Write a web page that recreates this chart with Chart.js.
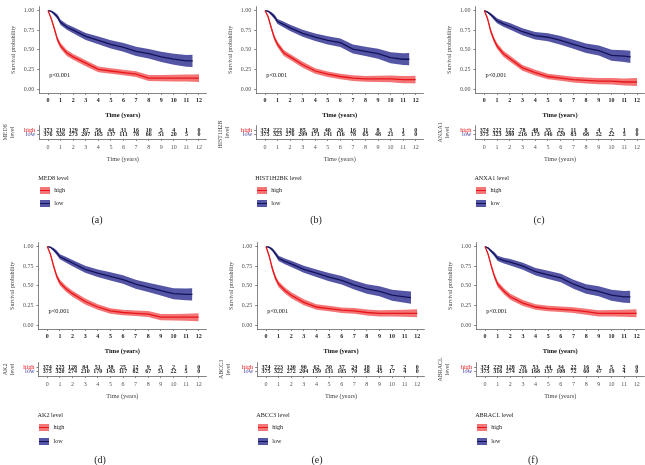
<!DOCTYPE html>
<html>
<head>
<meta charset="utf-8">
<script src="https://cdn.jsdelivr.net/npm/chart.js@4.4.1/dist/chart.umd.min.js"></script>
<style>
body { margin: 0; background: #fff; font-family: 'Liberation Serif', 'DejaVu Serif', serif; }
#fig { position: relative; width: 645px; height: 465px; overflow: hidden; }
.panel { position: absolute; width: 215px; height: 232px; }
.panel canvas { position: absolute; left: 0; }
.lgt, .lbl { position: absolute; font-size: 6.2px; color: #222; white-space: nowrap; line-height: 8px; }
.box { position: absolute; width: 10px; height: 7px; }
.box i { position: absolute; left: 0; right: 0; top: 3px; height: 1.3px; }
.cap { position: absolute; font-size: 10px; color: #222; transform: translateX(-50%); line-height: 12px; }
</style>
</head>
<body>
<div id="fig"></div>
<script>
// time points (years)
var years = [0, 0.25, 0.5, 0.75, 1, 1.5, 2, 3, 4, 5, 6, 7, 8, 9, 10, 11, 11.5, 12];
var tableYears = [0, 1, 2, 3, 4, 5, 6, 7, 8, 9, 10, 11, 12];
var genes = ['MED8', 'HIST1H2BK', 'ANXA1', 'AK2', 'ABCC3', 'ABRACL'];
var letters = ['(a)', '(b)', '(c)', '(d)', '(e)', '(f)'];

// survival probability, high / low expression
var med8High = [1, 0.90, 0.77, 0.63, 0.55, 0.46, 0.41, 0.33, 0.25, 0.23, 0.21, 0.19, 0.14, 0.14, 0.14, 0.14, 0.14, 0.14];
var med8Low = [1, 0.99, 0.96, 0.92, 0.85, 0.79, 0.75, 0.67, 0.62, 0.57, 0.53, 0.48, 0.45, 0.41, 0.38, 0.36, 0.36, null];
var histHigh = [1, 0.92, 0.78, 0.65, 0.57, 0.46, 0.41, 0.31, 0.23, 0.19, 0.16, 0.14, 0.13, 0.13, 0.13, 0.12, 0.12, 0.12];
var histLow = [1, 0.99, 0.96, 0.92, 0.86, 0.82, 0.78, 0.71, 0.66, 0.62, 0.59, 0.51, 0.48, 0.45, 0.40, 0.38, 0.38, null];
var anxaHigh = [1, 0.90, 0.74, 0.63, 0.55, 0.45, 0.39, 0.27, 0.21, 0.16, 0.14, 0.12, 0.11, 0.10, 0.10, 0.09, 0.09, 0.09];
var anxaLow = [1, 0.98, 0.95, 0.91, 0.87, 0.83, 0.80, 0.73, 0.68, 0.66, 0.62, 0.57, 0.52, 0.49, 0.43, 0.42, 0.41, null];
var ak2High = [1, 0.90, 0.75, 0.62, 0.54, 0.46, 0.40, 0.30, 0.23, 0.18, 0.16, 0.15, 0.14, 0.10, 0.10, 0.10, 0.10, 0.10];
var ak2Low = [1, 0.99, 0.96, 0.92, 0.87, 0.83, 0.79, 0.71, 0.66, 0.62, 0.58, 0.52, 0.48, 0.44, 0.40, 0.39, 0.39, null];
var abccHigh = [1, 0.88, 0.72, 0.60, 0.52, 0.44, 0.38, 0.29, 0.23, 0.21, 0.19, 0.18, 0.16, 0.15, 0.15, 0.15, 0.15, 0.15];
var abccLow = [1, 0.99, 0.96, 0.91, 0.85, 0.81, 0.78, 0.71, 0.66, 0.61, 0.57, 0.51, 0.46, 0.43, 0.38, 0.36, 0.35, null];
var abraHigh = [1, 0.90, 0.75, 0.62, 0.52, 0.43, 0.36, 0.28, 0.23, 0.21, 0.20, 0.19, 0.17, 0.15, 0.15, 0.15, 0.15, 0.15];
var abraLow = [1, 0.98, 0.94, 0.90, 0.85, 0.82, 0.80, 0.75, 0.68, 0.64, 0.60, 0.52, 0.46, 0.43, 0.38, 0.36, 0.36, null];

// confidence band half widths
var bandHigh = [0, 0.02, 0.03, 0.035, 0.037, 0.038, 0.038, 0.038, 0.036, 0.035, 0.035, 0.036, 0.038, 0.04, 0.042, 0.045, 0.047, 0.05];
var bandLow = [0, 0.01, 0.02, 0.028, 0.033, 0.036, 0.04, 0.045, 0.048, 0.052, 0.055, 0.058, 0.06, 0.064, 0.07, 0.075, 0.078, null];

// number at risk
var med8RiskHigh = [373, 219, 129, 87, 56, 44, 31, 16, 10, 5, 4, 1, 0];
var med8RiskLow = [376, 326, 273, 207, 165, 137, 111, 78, 66, 51, 20, 5, 0];
var histRiskHigh = [374, 222, 126, 85, 50, 40, 26, 16, 11, 8, 3, 1, 0];
var histRiskLow = [375, 323, 276, 209, 171, 141, 116, 78, 65, 48, 21, 5, 0];
var anxaRiskHigh = [374, 222, 122, 78, 48, 35, 22, 11, 8, 4, 2, 1, 0];
var anxaRiskLow = [375, 323, 280, 216, 173, 146, 120, 83, 68, 52, 22, 5, 0];
var ak2RiskHigh = [374, 225, 128, 84, 51, 38, 25, 12, 9, 5, 2, 1, 0];
var ak2RiskLow = [375, 320, 274, 210, 170, 143, 117, 82, 67, 51, 22, 5, 0];
var abccRiskHigh = [374, 223, 130, 90, 62, 50, 37, 24, 18, 11, 7, 2, 0];
var abccRiskLow = [375, 322, 272, 204, 159, 131, 105, 70, 58, 45, 17, 4, 0];
var abraRiskHigh = [374, 229, 128, 78, 53, 44, 34, 22, 16, 9, 5, 2, 0];
var abraRiskLow = [375, 316, 274, 216, 168, 137, 108, 72, 60, 47, 19, 4, 0];

var yTicks = [0, 0.25, 0.5, 0.75, 1];

var survHigh = [med8High, histHigh, anxaHigh, ak2High, abccHigh, abraHigh];
var survLow = [med8Low, histLow, anxaLow, ak2Low, abccLow, abraLow];
var riskHigh = [med8RiskHigh, histRiskHigh, anxaRiskHigh, ak2RiskHigh, abccRiskHigh, abraRiskHigh];
var riskLow = [med8RiskLow, histRiskLow, anxaRiskLow, ak2RiskLow, abccRiskLow, abraRiskLow];

// layout: pixel of year 0 and year 12 inside each panel
var layout = [
  {left: 0, top: 0, x0: 48, x12: 199, lvlX: 5, capX: 97},
  {left: 215, top: 0, x0: 50, x12: 200.7, lvlX: 5, capX: 101},
  {left: 430, top: 0, x0: 54.3, x12: 207, lvlX: 10, capX: 109},
  {left: 0, top: 236, x0: 47.3, x12: 198.7, lvlX: 5, capX: 100},
  {left: 215, top: 236, x0: 51, x12: 202.3, lvlX: 6, capX: 102},
  {left: 430, top: 236, x0: 55, x12: 206.7, lvlX: 10, capX: 103}
];
var rowExtra = [0, 1];

var RED = '#e8161b', RED_BAND = 'rgba(240,78,78,0.78)';
var BLUE = '#13135c', BLUE_BAND = 'rgba(48,48,145,0.82)';
var SERIF = "'Liberation Serif', 'DejaVu Serif', serif";
var XMIN = -0.7, XMAX = 12.6;
var W = 215, KM_H = 122, TB_H = 46;

Chart.defaults.font.family = SERIF;
Chart.defaults.color = '#333';

function pts(vals, off, sign) {
  var out = [];
  years.forEach(function (t, i) {
    if (vals[i] === null) return;
    var v = vals[i];
    if (off) v = Math.min(1, Math.max(0, v + sign * off[i]));
    out.push({x: t, y: v});
  });
  return out;
}

function makeCanvas(panel, top, h) {
  var c = document.createElement('canvas');
  c.width = W; c.height = h;
  c.style.top = top + 'px';
  panel.appendChild(c);
  return c;
}

var fig = document.getElementById('fig');

genes.forEach(function (gene, k) {
  var lay = layout[k];
  var extra = rowExtra[k < 3 ? 0 : 1];
  var ppy = (lay.x12 - lay.x0) / 12;
  var L = lay.x0 + XMIN * ppy;
  var R = lay.x12 + (XMAX - 12) * ppy;

  var panel = document.createElement('div');
  panel.className = 'panel';
  panel.style.left = lay.left + 'px';
  panel.style.top = lay.top + 'px';
  fig.appendChild(panel);

  // survival curves
  var km = makeCanvas(panel, 0, KM_H);
  new Chart(km, {
    type: 'line',
    data: {
      datasets: [
        {data: pts(survHigh[k]), borderColor: RED, borderWidth: 1.3, pointRadius: 0, fill: false, order: 0},
        {data: pts(survLow[k]), borderColor: BLUE, borderWidth: 1.3, pointRadius: 0, fill: false, order: 0},
        {data: pts(survHigh[k], bandHigh, -1), borderWidth: 0, pointRadius: 0, fill: false, order: 1},
        {data: pts(survHigh[k], bandHigh, 1), borderWidth: 0, pointRadius: 0, fill: '-1', backgroundColor: RED_BAND, order: 1},
        {data: pts(survLow[k], bandLow, -1), borderWidth: 0, pointRadius: 0, fill: false, order: 1},
        {data: pts(survLow[k], bandLow, 1), borderWidth: 0, pointRadius: 0, fill: '-1', backgroundColor: BLUE_BAND, order: 1}
      ]
    },
    options: {
      responsive: false,
      animation: false,
      layout: {padding: {left: 0, top: 1, right: W - R, bottom: 0}},
      plugins: {legend: {display: false}, tooltip: {enabled: false}},
      scales: {
        x: {
          type: 'linear', min: XMIN, max: XMAX,
          afterBuildTicks: function (s) { s.ticks = tableYears.map(function (v) { return {value: v}; }); },
          afterFit: function (s) { s.height = KM_H - 93; },
          grid: {display: true, drawOnChartArea: false, tickLength: 2, color: '#333', lineWidth: 0.6},
          border: {display: true, color: '#333', width: 0.6},
          ticks: {autoSkip: false, maxRotation: 0, padding: 2, color: '#222', font: {size: 6, weight: 'bold'}},
          title: {display: true, text: 'Time (years)', color: '#111', font: {size: 6.5, weight: 'bold'}, padding: {top: 0, bottom: 3}}
        },
        y: {
          type: 'linear', min: -0.05, max: 1.05,
          afterBuildTicks: function (s) { s.ticks = yTicks.map(function (v) { return {value: v}; }); },
          afterFit: function (s) { s.width = L; },
          grid: {display: true, drawOnChartArea: false, tickLength: 2, color: '#333', lineWidth: 0.6},
          border: {display: true, color: '#333', width: 0.6},
          ticks: {padding: 3, color: '#4d4d4d', font: {size: 6}, callback: function (v) { return v.toFixed(2); }},
          title: {display: true, text: 'Survival probability', color: '#444', font: {size: 6}, padding: {top: Math.max(0, L - 29.6), bottom: 0}}
        }
      }
    },
    plugins: [{
      id: 'pval',
      afterDatasetsDraw: function (chart) {
        var c = chart.ctx, xs = chart.scales.x, ys = chart.scales.y;
        c.save();
        c.font = '6.3px ' + SERIF;
        c.fillStyle = '#111';
        c.textBaseline = 'middle';
        c.fillText('p<0.001', xs.getPixelForValue(0.1), ys.getPixelForValue(0.18));
        c.restore();
      }
    }]
  });

  // number at risk table
  var tb = makeCanvas(panel, 120 + extra, TB_H);
  new Chart(tb, {
    type: 'line',
    data: {
      datasets: [
        {data: tableYears.map(function (t) { return {x: t, y: 2}; }), counts: riskHigh[k], showLine: false, pointRadius: 0},
        {data: tableYears.map(function (t) { return {x: t, y: 1}; }), counts: riskLow[k], showLine: false, pointRadius: 0}
      ]
    },
    options: {
      responsive: false,
      animation: false,
      layout: {padding: {left: 0, top: 2, right: W - R, bottom: 0}},
      plugins: {legend: {display: false}, tooltip: {enabled: false}},
      scales: {
        x: {
          type: 'linear', min: XMIN, max: XMAX,
          afterBuildTicks: function (s) { s.ticks = tableYears.map(function (v) { return {value: v}; }); },
          afterFit: function (s) { s.height = TB_H - 19; },
          grid: {display: true, drawOnChartArea: false, tickLength: 2, color: '#333', lineWidth: 0.6},
          border: {display: true, color: '#333', width: 0.6},
          ticks: {autoSkip: false, maxRotation: 0, padding: 3, color: '#555', font: {size: 6}},
          title: {display: true, text: 'Time (years)', color: '#444', font: {size: 6.3}, padding: {top: 0, bottom: 3}}
        },
        y: {
          type: 'linear', min: 0, max: 3,
          afterBuildTicks: function (s) { s.ticks = [{value: 1}, {value: 2}]; },
          afterFit: function (s) { s.width = L; },
          grid: {display: true, drawOnChartArea: false, tickLength: 2, color: '#333', lineWidth: 0.6},
          border: {display: true, color: '#333', width: 0.6},
          ticks: {
            padding: 2, font: {size: 6.3},
            color: function (c) { return c.tick && c.tick.value === 2 ? RED : '#3b3b9c'; },
            callback: function (v) { return v === 2 ? 'high' : 'low'; }
          },
          title: {display: true, text: [gene, 'level'], color: '#444', font: {size: 6}, padding: {top: Math.max(0, lay.lvlX - 3.6), bottom: 0}}
        }
      }
    },
    plugins: [{
      id: 'counts',
      afterDatasetsDraw: function (chart) {
        var c = chart.ctx;
        c.save();
        c.font = 'bold 6px ' + SERIF;
        c.fillStyle = '#1a1a1a';
        c.textAlign = 'center';
        c.textBaseline = 'middle';
        chart.data.datasets.forEach(function (ds, di) {
          chart.getDatasetMeta(di).data.forEach(function (p, i) {
            c.fillText(String(ds.counts[i]), p.x, p.y);
          });
        });
        c.restore();
      }
    }]
  });

  // legend
  var ly = 174 + extra;
  var html = '<div class="lgt" style="left:' + (L - 1) + 'px;top:' + ly + 'px">' + gene + ' level</div>' +
    '<div class="box" style="left:' + (L + 1) + 'px;top:' + (ly + 12.5) + 'px;background:' + RED_BAND + '"><i style="background:' + RED + '"></i></div>' +
    '<div class="lbl" style="left:' + (L + 15) + 'px;top:' + (ly + 12) + 'px">high</div>' +
    '<div class="box" style="left:' + (L + 1) + 'px;top:' + (ly + 25.5 + extra) + 'px;background:' + BLUE_BAND + '"><i style="background:' + BLUE + '"></i></div>' +
    '<div class="lbl" style="left:' + (L + 15) + 'px;top:' + (ly + 25 + extra) + 'px">low</div>' +
    '<div class="cap" style="left:' + lay.capX + 'px;top:' + (214 + extra * 4) + 'px">' + letters[k] + '</div>';
  panel.insertAdjacentHTML('beforeend', html);
});
</script>
</body>
</html>
